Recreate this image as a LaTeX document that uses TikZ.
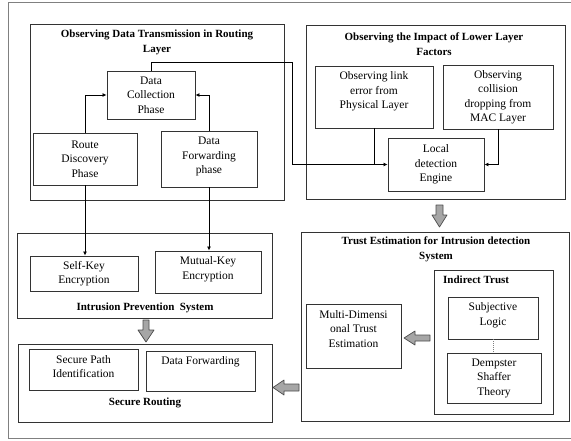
\documentclass[tikz,border=0pt]{standalone}
\usepackage{fontspec}
\setmainfont{Liberation Serif}
\usetikzlibrary{arrows.meta}
\begin{document}
\begin{tikzpicture}[x=1pt,y=-1pt,
  bx/.style={draw=black!80, line width=0.9pt, inner sep=0pt, align=center, font=\fontsize{11.5}{14.5}\selectfont},
  txt/.style={inner sep=0pt, align=center, font=\fontsize{11.5}{14.5}\selectfont},
  ttl/.style={inner sep=0pt, align=center, font=\fontsize{11}{15}\selectfont\bfseries},
  conn/.style={draw=black, line width=0.9pt},
  arr/.style={conn, -{Latex[length=4pt,width=4pt]}},
  garrow/.style={draw=black!70, fill=black!35, line width=0.7pt, line join=round}]
\useasboundingbox (0,0) rectangle (571,440);
\draw[black!50, line width=1pt] (571,2) -- (8,2) -- (8,438) -- (571,438);

% Box 1
\node[bx, minimum width=254, minimum height=176] (obs1) at (157,112) {};
\node[ttl] (t1) at (157,42.5) {Observing Data Transmission in Routing\\Layer};
\node[bx, minimum width=88, minimum height=48] (dcp) at (151,95) {Data\\Collection\\Phase};
\node[bx, minimum width=104, minimum height=52] (rdp) at (85,159) {Route\\Discovery\\Phase};
\node[bx, minimum width=96, minimum height=56] (dfp) at (209,159) {};
\node[txt] (dfpt) at (209,156.5) {Data\\Forwarding\\phase};

% Box 2
\node[bx, minimum width=259, minimum height=174] (obs2) at (435.5,112) {};
\node[ttl] (t2) at (434,44) {Observing the Impact of Lower Layer\\Factors};
\node[bx, minimum width=118, minimum height=62] (link) at (374,97) {};
\node[txt] (linkt) at (374,91.5) {Observing link\\error from\\Physical Layer};
\node[bx, minimum width=110, minimum height=64] (coll) at (498,97) {Observing\\collision\\dropping from\\MAC Layer};
\node[bx, minimum width=96, minimum height=53] (lde) at (436,164.5) {Local\\detection\\Engine};

% Box 3
\node[bx, minimum width=255, minimum height=85] (ips) at (144.5,275.5) {};
\node[bx, minimum width=108, minimum height=35] (self) at (84,273.5) {Self-Key\\Encryption};
\node[bx, minimum width=106, minimum height=42] (mut) at (208,272) {};
\node[txt] (mutt) at (208,269) {Mutual-Key\\Encryption};
\node[ttl] (t3) at (145,308) {Intrusion Prevention\ \ System};

% Box 4
\node[bx, minimum width=254, minimum height=78] (sr) at (145,383) {};
\node[bx, minimum width=109, minimum height=41] (spi) at (83.5,369.5) {};
\node[txt] (spit) at (83.5,366.5) {Secure Path\\Identification};
\node[bx, minimum width=109, minimum height=40] (dfw) at (200.5,371) {};
\node[txt] (dfwt) at (200.5,362) {Data Forwarding};
\node[ttl] (t4) at (145,402.5) {Secure Routing};

% Box 5
\node[bx, minimum width=268, minimum height=189] (te) at (435,326.5) {};
\node[ttl] (t5) at (436,249.5) {Trust Estimation for Intrusion detection\\System};
\node[bx, minimum width=119, minimum height=144] (ind) at (493.5,342) {};
\node[ttl, anchor=west] (t6) at (443,280) {Indirect Trust};
\node[bx, minimum width=90, minimum height=42] (subj) at (493,318) {};
\node[txt] (subjt) at (493,315) {Subjective\\Logic};
\node[bx, minimum width=94, minimum height=50] (demp) at (494,378) {Dempster\\Shaffer\\Theory};
\node[bx, minimum width=95, minimum height=64] (mdte) at (353.5,336) {};
\node[txt] (mdtet) at (353.5,329) {Multi-Dimensi\\onal Trust\\Estimation};

% connectors
\draw[arr] (rdp.north) |- (dcp.west);
\draw[arr] (dfp.north) |- (dcp.east);
\coordinate (c1) at (292,62);
\draw[arr] (dcp.north) |- (c1) |- (lde.west);
\draw[conn] (link.south) -- (link.south |- lde.west);
\draw[arr] (coll.south) |- (lde.east);
\draw[arr] (rdp.south) -- (rdp.south |- self.north);
\draw[arr] (dfp.south) -- (dfp.south |- mut.north);
\draw[black!50, densely dotted, line width=0.9pt] (subj.south) -- (subj.south |- demp.north);

% gray block arrows
\draw[garrow] (436,205) -- (443,205) -- (443,215) -- (447,215) -- (439.5,227) -- (432,215) -- (436,215) -- cycle;
\draw[garrow] (143,320) -- (149,320) -- (149,330) -- (154,330) -- (146,342) -- (138,330) -- (143,330) -- cycle;
\draw[garrow] (430,335) -- (415,335) -- (415,331) -- (404,338) -- (415,345) -- (415,341) -- (430,341) -- cycle;
\draw[garrow] (299,384) -- (284,384) -- (284,380) -- (273,387.5) -- (284,395) -- (284,391) -- (299,391) -- cycle;
\end{tikzpicture}
\end{document}
